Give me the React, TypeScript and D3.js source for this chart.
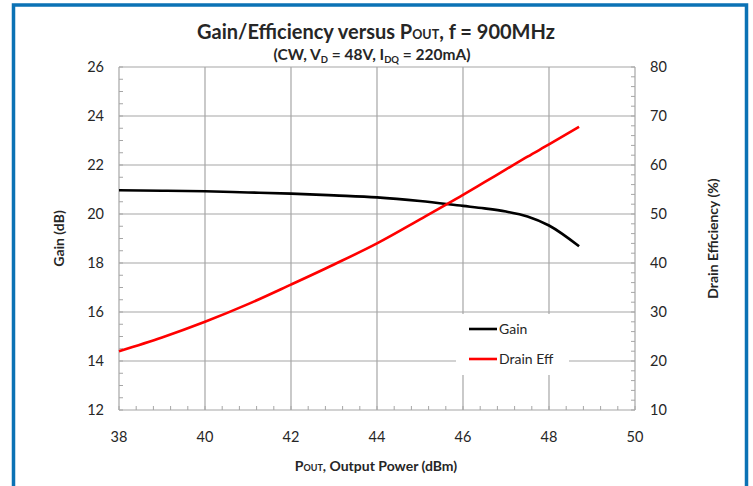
import { useEffect, useRef } from 'react';
import * as d3 from 'd3';

// =============================================================================
// Data
// =============================================================================

const poutDbm = [38, 39, 40, 41, 42, 43, 44, 45, 46, 46.5, 47, 47.5, 48, 48.7];
const gainDb = [20.97, 20.95, 20.93, 20.88, 20.83, 20.76, 20.68, 20.53, 20.33, 20.23, 20.1, 19.9, 19.53, 18.68];
const drainEffPct = [22.0, 24.8, 28.0, 31.6, 35.6, 39.7, 44.0, 48.9, 53.9, 56.5, 59.1, 61.7, 64.2, 67.8];

const xTicks = [38, 40, 42, 44, 46, 48, 50];
const gainTicks = [12, 14, 16, 18, 20, 22, 24, 26];
const effTicks = [10, 20, 30, 40, 50, 60, 70, 80];

const legendItems = [
  { label: 'Gain', color: '#000000' },
  { label: 'Drain Eff', color: '#ff0000' },
];

// =============================================================================
// Constants
// =============================================================================

const W = 753;
const H = 486;
const PLOT = { left: 119, right: 635, top: 67, bottom: 410 };
const FONT = 'Lato, "Open Sans", sans-serif';
const GRID = '#a6a6a6';
const TEXT = '#262626';

export default function App() {
  const svgRef = useRef<SVGSVGElement>(null);

  useEffect(() => {
    if (!svgRef.current) return;
    const svg = d3.select(svgRef.current);
    svg.selectAll('*').remove();

    const x = d3.scaleLinear().domain([38, 50]).range([PLOT.left, PLOT.right]);
    const yGain = d3.scaleLinear().domain([12, 26]).range([PLOT.bottom, PLOT.top]);
    const yEff = d3.scaleLinear().domain([10, 80]).range([PLOT.bottom, PLOT.top]);

    svg.append('rect').attr('width', W).attr('height', H).attr('fill', '#fff');

    // blue frame (open at the bottom)
    svg.append('path')
      .attr('d', `M13.5,${H} V5 H746.5 V${H}`)
      .attr('fill', 'none')
      .attr('stroke', '#0b72b5')
      .attr('stroke-width', 3.5);

    // Grid
    const g = svg.append('g');
    xTicks.forEach((t) => {
      g.append('line')
        .attr('x1', x(t)).attr('x2', x(t))
        .attr('y1', PLOT.top).attr('y2', PLOT.bottom)
        .attr('stroke', GRID).attr('stroke-width', 1.2);
    });
    gainTicks.forEach((t) => {
      g.append('line')
        .attr('x1', PLOT.left).attr('x2', PLOT.right)
        .attr('y1', yGain(t)).attr('y2', yGain(t))
        .attr('stroke', GRID).attr('stroke-width', 1.2);
    });

    // Minor ticks
    d3.range(38, 50.001, 0.4).forEach((t) => {
      g.append('line')
        .attr('x1', x(t)).attr('x2', x(t))
        .attr('y1', PLOT.bottom).attr('y2', PLOT.bottom - 4)
        .attr('stroke', GRID).attr('stroke-width', 1);
    });
    d3.range(12, 26.001, 0.5).forEach((t) => {
      g.append('line')
        .attr('x1', PLOT.left).attr('x2', PLOT.left + 4)
        .attr('y1', yGain(t)).attr('y2', yGain(t))
        .attr('stroke', GRID).attr('stroke-width', 1);
    });
    d3.range(10, 80.001, 2).forEach((t) => {
      g.append('line')
        .attr('x1', PLOT.right).attr('x2', PLOT.right - 4)
        .attr('y1', yEff(t)).attr('y2', yEff(t))
        .attr('stroke', GRID).attr('stroke-width', 1);
    });

    // Series
    const gainLine = d3.line<number>()
      .x((_, i) => x(poutDbm[i]))
      .y((d) => yGain(d))
      .curve(d3.curveMonotoneX);
    const effLine = d3.line<number>()
      .x((_, i) => x(poutDbm[i]))
      .y((d) => yEff(d))
      .curve(d3.curveMonotoneX);

    svg.append('path')
      .datum(gainDb)
      .attr('d', gainLine)
      .attr('fill', 'none')
      .attr('stroke', '#000')
      .attr('stroke-width', 2.6);

    svg.append('path')
      .datum(drainEffPct)
      .attr('d', effLine)
      .attr('fill', 'none')
      .attr('stroke', '#ff0000')
      .attr('stroke-width', 2.6);

    // Legend (white box hides gridlines)
    const lg = svg.append('g');
    lg.append('rect')
      .attr('x', 456).attr('y', 314)
      .attr('width', 113).attr('height', 61)
      .attr('fill', '#fff');
    legendItems.forEach((item, i) => {
      const ly = 329 + i * 30;
      lg.append('line')
        .attr('x1', 469).attr('x2', 497)
        .attr('y1', ly).attr('y2', ly)
        .attr('stroke', item.color).attr('stroke-width', 2.6);
      lg.append('text')
        .attr('x', 499).attr('y', ly)
        .attr('dy', '0.35em')
        .attr('font-family', FONT)
        .attr('font-size', 14)
        .attr('fill', TEXT)
        .text(item.label);
    });

    // Tick labels
    const labels = svg.append('g')
      .attr('font-family', FONT)
      .attr('font-size', 14.5)
      .attr('fill', TEXT);
    xTicks.forEach((t) => {
      labels.append('text')
        .attr('x', x(t)).attr('y', 437)
        .attr('dy', '0.35em')
        .attr('text-anchor', 'middle')
        .text(t);
    });
    gainTicks.forEach((t) => {
      labels.append('text')
        .attr('x', 104).attr('y', yGain(t))
        .attr('dy', '0.35em')
        .attr('text-anchor', 'end')
        .text(t);
    });
    effTicks.forEach((t) => {
      labels.append('text')
        .attr('x', 650).attr('y', yEff(t))
        .attr('dy', '0.35em')
        .attr('text-anchor', 'start')
        .text(t);
    });

    // Titles
    const title = svg.append('text')
      .attr('x', 376).attr('y', 39)
      .attr('text-anchor', 'middle')
      .attr('font-family', FONT)
      .attr('font-weight', 'bold')
      .attr('font-size', 20)
      .attr('fill', TEXT);
    title.append('tspan').text('Gain/Efficiency versus P');
    title.append('tspan').attr('font-size', 12.5).text('OUT');
    title.append('tspan').text(', f = 900MHz');

    const sub = svg.append('text')
      .attr('x', 372).attr('y', 60)
      .attr('text-anchor', 'middle')
      .attr('font-family', FONT)
      .attr('font-weight', 'bold')
      .attr('font-size', 15.5)
      .attr('fill', TEXT);
    sub.append('tspan').text('(CW, V');
    sub.append('tspan').attr('font-size', 9.5).attr('dy', 3).text('D');
    sub.append('tspan').attr('dy', -3).text(' = 48V, I');
    sub.append('tspan').attr('font-size', 9.5).attr('dy', 3).text('DQ');
    sub.append('tspan').attr('dy', -3).text(' = 220mA)');

    const xTitle = svg.append('text')
      .attr('x', 376).attr('y', 471)
      .attr('text-anchor', 'middle')
      .attr('font-family', FONT)
      .attr('font-weight', 'bold')
      .attr('font-size', 14)
      .attr('fill', TEXT);
    xTitle.append('tspan').text('P');
    xTitle.append('tspan').attr('font-size', 9).text('OUT');
    xTitle.append('tspan').text(', Output Power (dBm)');

    svg.append('text')
      .attr('transform', `translate(64,${(PLOT.top + PLOT.bottom) / 2}) rotate(-90)`)
      .attr('text-anchor', 'middle')
      .attr('font-family', FONT)
      .attr('font-weight', 'bold')
      .attr('font-size', 14)
      .attr('fill', TEXT)
      .text('Gain (dB)');

    svg.append('text')
      .attr('transform', `translate(718,${(PLOT.top + PLOT.bottom) / 2}) rotate(-90)`)
      .attr('text-anchor', 'middle')
      .attr('font-family', FONT)
      .attr('font-weight', 'bold')
      .attr('font-size', 14)
      .attr('fill', TEXT)
      .text('Drain Efficiency (%)');
  }, []);

  return (
    <div style={{ position: 'fixed', left: 0, top: 0 }}>
      <svg ref={svgRef} width={W} height={H} style={{ display: 'block' }} />
    </div>
  );
}
